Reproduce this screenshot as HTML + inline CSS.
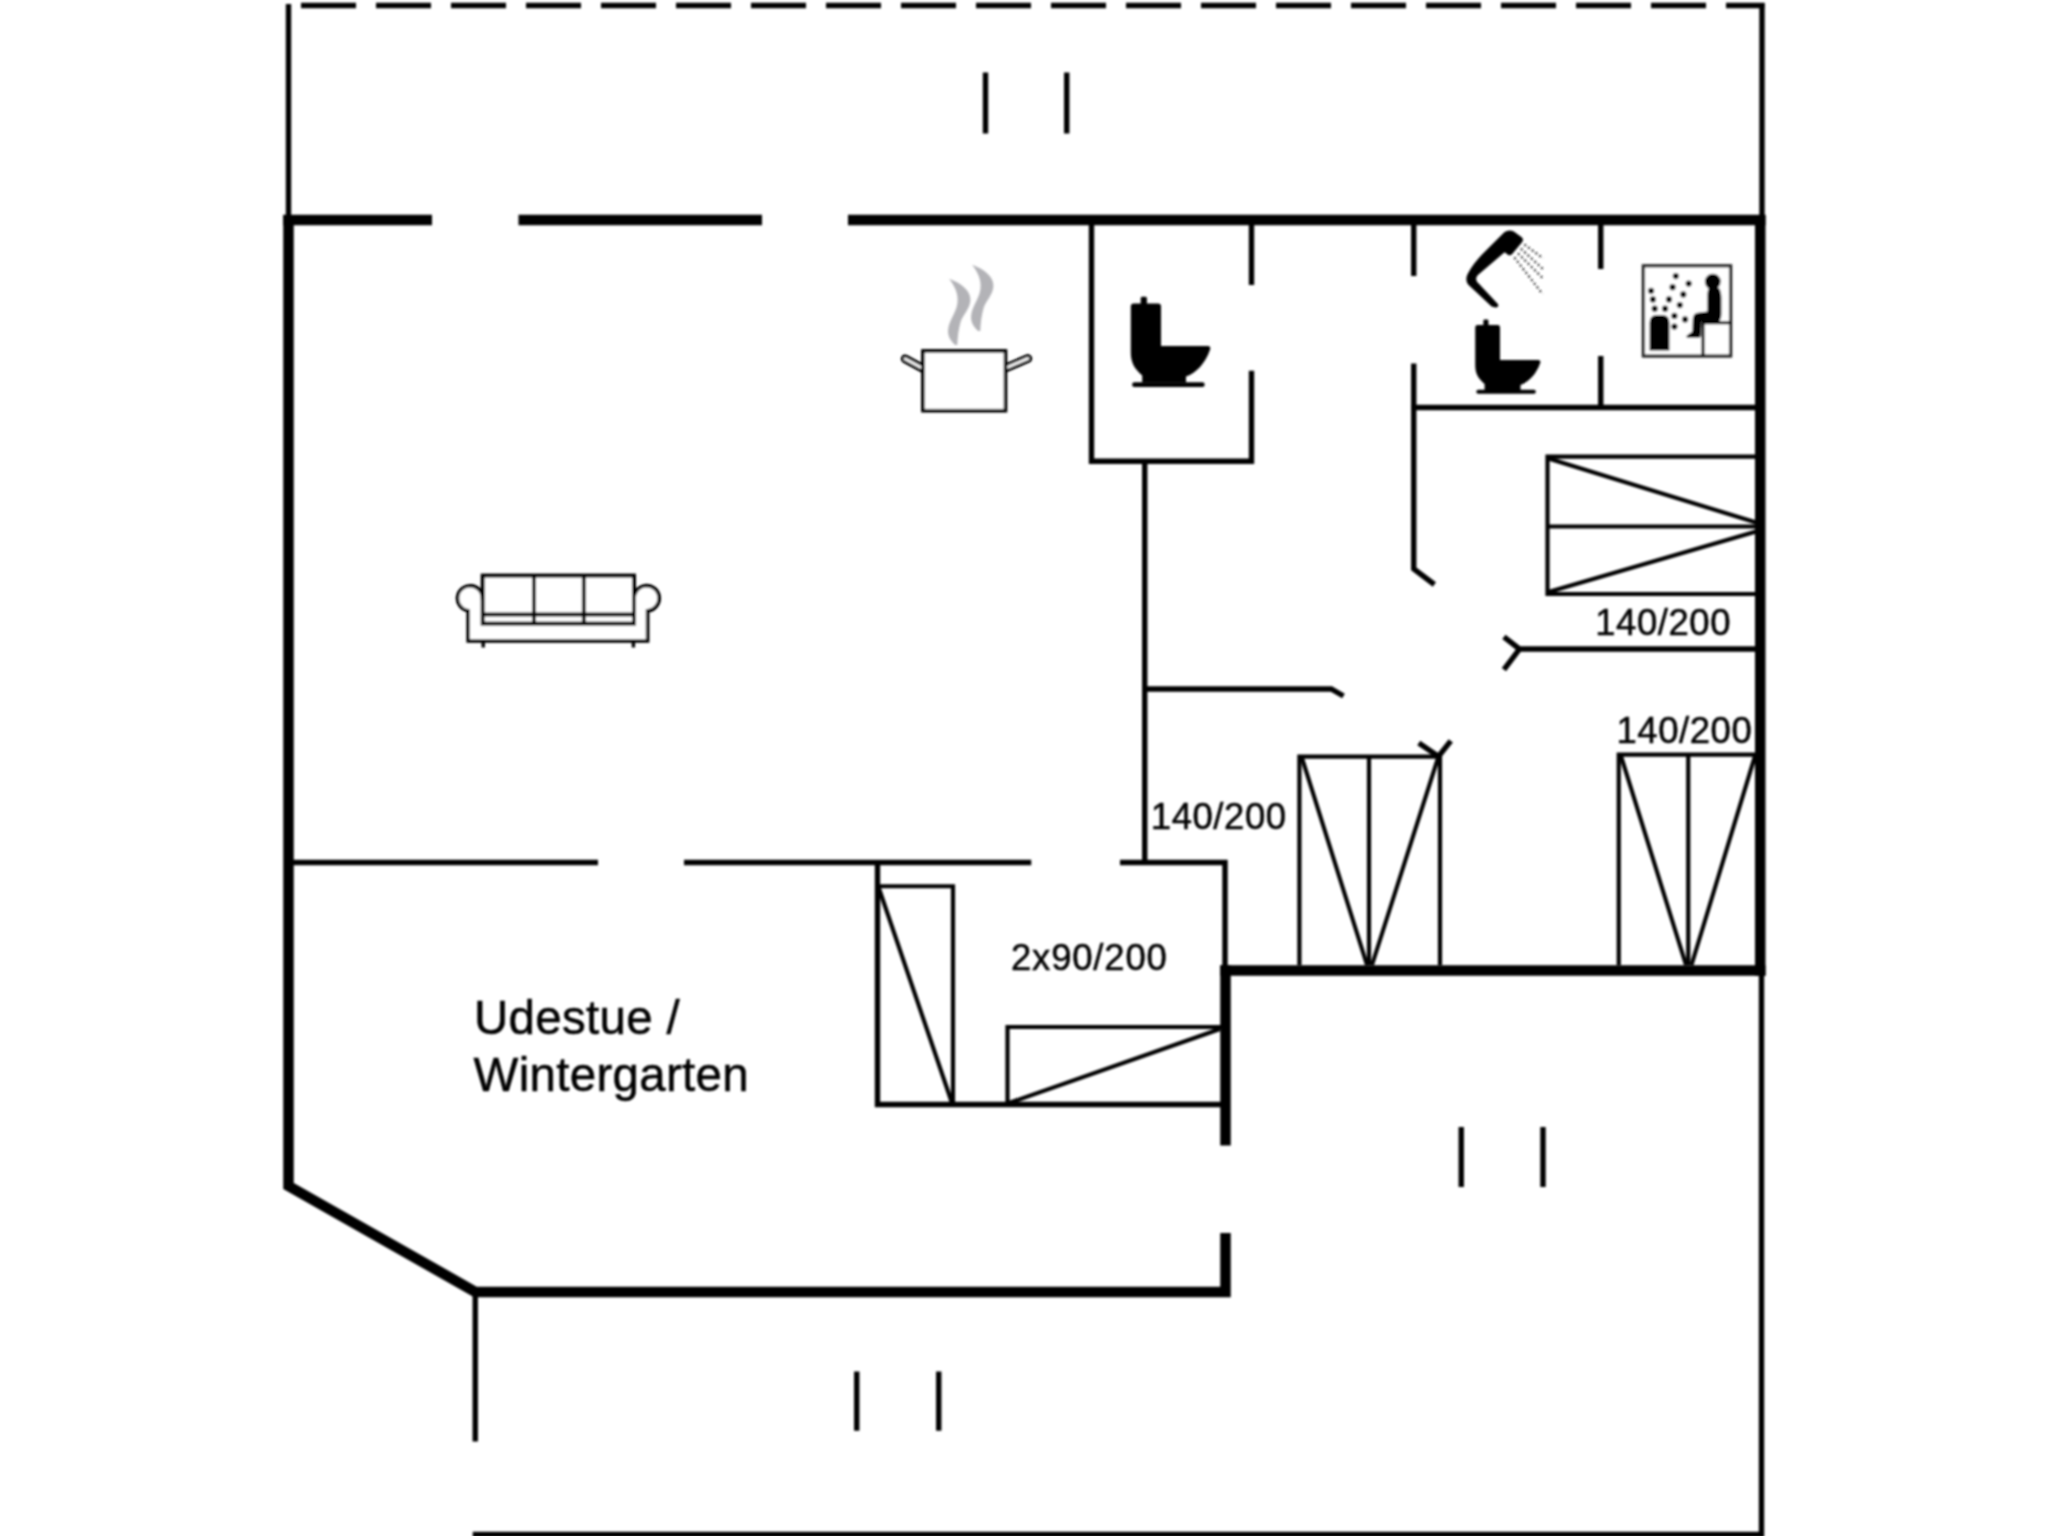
<!DOCTYPE html>
<html lang="da">
<head>
<meta charset="utf-8">
<title>Grundplan</title>
<style>
html,body{margin:0;padding:0;background:#fff;}
body{width:2048px;height:1536px;overflow:hidden;position:relative;font-family:"Liberation Sans",sans-serif;}
svg{position:absolute;left:0;top:0;display:block;}
.t{stroke:#000;stroke-width:5.4;fill:none;stroke-linecap:butt;stroke-linejoin:miter;}
.d{stroke:#000;stroke-width:4.1;fill:none;stroke-linecap:butt;}
.b{stroke-width:4.2;}
.T{stroke:#000;stroke-width:10.5;fill:none;stroke-linecap:butt;stroke-linejoin:miter;}
.lbl{font-family:"Liberation Sans",sans-serif;font-size:36.5px;fill:#000;stroke:#000;stroke-width:0.5px;letter-spacing:0.55px;}
.big{font-family:"Liberation Sans",sans-serif;font-size:47.5px;fill:#000;stroke:#000;stroke-width:0.5px;letter-spacing:0.3px;}
</style>
</head>
<body>
<svg width="2048" height="1536" viewBox="0 0 2048 1536">
<rect width="2048" height="1536" fill="#fff"/>
<g id="plan" filter="url(#soft)">
<g class="t">
<path d="M301,5.5 H1764.5" stroke-dasharray="55 20" style="stroke-width:5.5"/>
<path d="M288.5,4 V216"/>
<path d="M1762,3 V216"/>
<path d="M1761.5,975 V1536"/>
<path d="M985.5,72.5 V133.5 M1066.75,72.5 V133.5"/>
<path d="M856.75,1371.5 V1430.75 M938.75,1371.5 V1430.75"/>
<path d="M1461.25,1127 V1187 M1543,1127 V1187"/>
<!-- wc box -->
<path d="M1091.5,224 V461.25 H1251.5 V370.75 M1251.5,224 V285"/>
<path d="M1144.75,461 V862.5"/>
<!-- bath -->
<path d="M1413.75,224 V276 M1413.75,363.5 V569 L1434.4,584.5"/>
<path d="M1600.75,224 V269 M1600.75,356 V407.5"/>
<path d="M1411.25,407.5 H1757"/>
<!-- bed1 -->
<path class="b" d="M1757,456.7 H1547.5 V594 H1757 M1547.5,526.5 H1757"/>
<!-- door markers -->
<path d="M1757,649 H1519.5 M1503.9,636.9 L1519.5,649 L1503.9,669.7"/>
<path d="M1144.75,689 H1331.25 L1343.5,696"/>
<path d="M1418.75,743.1 L1438.5,756.4 L1450.8,740.8"/>
<!-- bed2 -->
<path class="b" d="M1299.4,965 V756.7 H1440 V965 M1369,756.5 V965"/>
<!-- bed3 -->
<path class="b" d="M1618.75,965 V754.7 H1757 M1688.25,754.5 V965"/>
<!-- living room bottom wall -->
<path d="M288.5,862.5 H598 M684,862.5 H1031.25 M1120,862.5 H1225 V966"/>
<!-- twin room -->
<path d="M877.5,862.5 V1104.5 H1221"/>
<path class="b" d="M877.5,886.25 H953 V1104.5"/>
<path class="b" d="M1221,1027 H1007.5 V1104.5"/>
<!-- bottom -->
<path d="M475.25,1292 V1441.5"/>
<path d="M472.75,1534.5 H1764"/>
</g>
<g class="d">
<path d="M1548.5,458.5 L1757,522.8 M1548.5,592 L1757,531.2"/>
<path d="M1302,758 L1367,965 M1438,758 L1372,965"/>
<path d="M1621,756 L1686,965 M1755,756 L1691.5,965"/>
<path d="M879,888.5 L952,1103"/>
<path d="M1009,1103 L1220,1029"/>
</g>
<g class="T">
<path d="M283.25,220 H432 M518.5,220 H762 M848,220 H1765.5"/>
<path d="M288.5,215 V1186 L475.5,1292 H1225.5 V1233"/>
<path d="M1760.25,215 V975.75"/>
<path d="M1220.25,970.5 H1765.5"/>
<path d="M1225.5,965.25 V1145.5"/>
</g>
<defs>
<g id="wc">
<path d="M0.3,9.5 Q0.3,6.6 3.2,6.6 H10.2 V1.4 Q10.2,0 11.8,0 H14.8 Q16.4,0 16.4,1.4 V6.6 H27.6 Q30.5,6.6 30.5,9.5 V49.2 H77 Q80.6,49.2 79.6,52.6 C74.5,67 66,75.5 55.5,79.8 V85.8 H11.7 V78.6 C3.2,71.5 0.3,65 0.3,55.5 Z"/>
<rect x="1.6" y="85.5" width="72.6" height="4.8" rx="2.4"/>
</g>
<path id="steam" d="M949.1,278.7 C962,283.5 971,291 970.4,300.5 C969.8,309 963,314.5 960.6,322 C958.6,329 957.6,337 957.3,344.9 L955.2,344.9 C950.6,341 947.6,336 948.1,330 C948.8,321.5 955,314 957,305.5 C958.6,298.5 957.8,290 949.1,278.7 Z"/>
</defs>
<!-- sofa -->
<g fill="#fff" stroke="#000" stroke-width="3.6" stroke-linejoin="miter">
<path d="M482.5,600.4 A12.6,12.6 0 1 0 468.2,610.8 V641 H647.6 V610.8 A12.6,12.6 0 1 0 634.2,600.4"/>
<rect x="482.7" y="575.6" width="151.3" height="48" stroke-width="4"/>
<path d="M534,575.6 V623.6 M583.9,575.6 V623.6 M482.7,614.6 H634" fill="none" stroke-width="4"/>
<path d="M483.2,641 V647.4 M633.4,641 V647.4" fill="none" stroke-width="3.4"/>
</g>
<!-- pot -->
<g fill="none" stroke-linecap="round">
<path d="M905.2,358.8 L925,369.6 M1027.8,358.5 L1004,368.7" stroke="#000" stroke-width="8.8"/>
<path d="M905.2,358.8 L925,369.6 M1027.8,358.5 L1004,368.7" stroke="#fff" stroke-width="2.6"/>
</g>
<rect x="922.9" y="350.9" width="82.6" height="59.8" fill="#fff" stroke="#000" stroke-width="3.6"/>
<g fill="#b3b3b7">
<use href="#steam"/>
<use href="#steam" transform="translate(23,-14)"/>
</g>
<!-- toilets -->
<use href="#wc" transform="translate(1130.5,296.8)"/>
<use href="#wc" transform="translate(1475,319.6) scale(0.82)"/>
<!-- shower -->
<path d="M1503.3,233.2 C1506,230.2 1510.5,229.6 1513.8,231.4 L1521.4,237 C1523.4,238.6 1523.4,240.6 1522,242.2 L1512,254.2 C1510.6,255.6 1509,255.6 1507.6,254.4 L1504.6,252.2 L1478.5,274.5 C1475.5,277.2 1475.4,280.3 1478.2,283.1 L1497.6,303.8 C1499.2,305.8 1497.8,307.6 1495.4,307.4 L1491.6,306.6 L1468.6,285 C1465.6,281.8 1465.8,277 1468.2,273 C1471.5,266.5 1476.5,260.5 1482,254.5 Z" fill="#000"/>
<g stroke="#222" stroke-width="2" stroke-dasharray="2 2.6" fill="none">
<path d="M1524.4,244.6 L1543,258.2"/>
<path d="M1520.9,248.7 L1543,269"/>
<path d="M1518,253.4 L1543,278.4"/>
<path d="M1514.4,257.5 L1542.5,294"/>
</g>
<!-- sauna -->
<rect x="1643.4" y="265.8" width="87.2" height="90.2" fill="#fff" stroke="#2a2a2a" stroke-width="3.3"/>
<path d="M1703,356 V322.7 H1730.6" fill="none" stroke="#000" stroke-width="3"/>
<path d="M1649.6,350.4 V322.5 Q1649.6,315 1657,315 H1662 Q1669.4,315 1669.4,322.5 V350.4 Z" fill="#000"/>
<g fill="#0a0a0a">
<circle cx="1675.8" cy="276.1" r="3.1"/><circle cx="1688.7" cy="283.6" r="3.1"/><circle cx="1672.6" cy="287.2" r="3.1"/>
<circle cx="1651.1" cy="290.8" r="3.1"/><circle cx="1683.3" cy="294.4" r="3.1"/><circle cx="1652.9" cy="299.4" r="3.1"/>
<circle cx="1669" cy="299.4" r="3.1"/><circle cx="1679.8" cy="305.1" r="3.1"/><circle cx="1654.7" cy="308.7" r="3.1"/>
<circle cx="1665.1" cy="308.7" r="3.1"/><circle cx="1674.4" cy="315.9" r="3.1"/><circle cx="1685.1" cy="319.4" r="3.1"/>
<circle cx="1674.4" cy="326.6" r="3.1"/>
</g>
<circle cx="1712.8" cy="281.6" r="7.9" fill="#000"/>
<path d="M1709,287.5 L1719,288 C1720.8,291 1721.4,294 1721.4,298 V314 C1721.4,318.5 1720,321.5 1717.5,322.6 H1702 L1701.6,321 L1700.6,336 C1700.4,337.4 1699.6,337.8 1698.5,337.8 H1688 C1686,337.6 1686,336 1687.6,335 L1692.4,331.6 L1692.8,319 C1693,315.2 1695,313.2 1698,312.8 L1707.4,311.6 V296 C1707.4,292.5 1707.8,290 1709,287.5 Z" fill="#000"/>

<text class="lbl" x="1595.2" y="634.5">140/200</text>
<text class="lbl" x="1616.5" y="743.4">140/200</text>
<text class="lbl" x="1150.8" y="829.3">140/200</text>
<text class="lbl" x="1011" y="970.1" style="letter-spacing:0.8px">2x90/200</text>
<text class="big" x="474" y="1033.7">Udestue /</text>
<text class="big" x="473.5" y="1091.2">Wintergarten</text>
</g>
<defs><filter id="soft" x="0" y="0" width="2048" height="1536" filterUnits="userSpaceOnUse"><feGaussianBlur stdDeviation="0.85"/></filter></defs>
</svg>
</body>
</html>
